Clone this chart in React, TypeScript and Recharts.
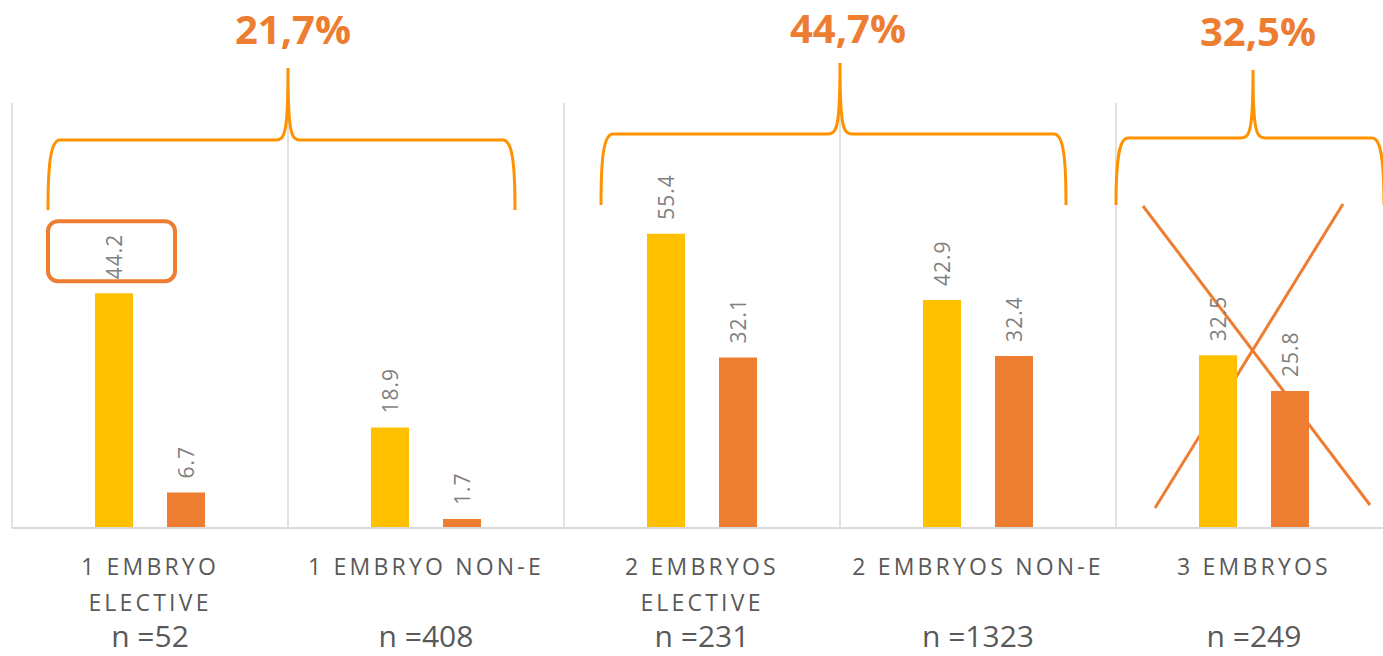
import { BarChart, Bar, XAxis, YAxis, CartesianGrid, LabelList, Customized } from "recharts";

const categories = ["1 EMBRYO ELECTIVE", "1 EMBRYO NON-E", "2 EMBRYOS ELECTIVE", "2 EMBRYOS NON-E", "3 EMBRYOS"];
const tickLines = [["1 EMBRYO", "ELECTIVE"], ["1 EMBRYO NON-E"], ["2 EMBRYOS", "ELECTIVE"], ["2 EMBRYOS NON-E"], ["3 EMBRYOS"]];
const sampleSizes = [52, 408, 231, 1323, 249];
const yellowValues = [44.2, 18.9, 55.4, 42.9, 32.5];
const orangeValues = [6.7, 1.7, 32.1, 32.4, 25.8];
const groupShares = ["21,7%", "44,7%", "32,5%"];

const data = categories.map((name, i) => ({ name, a: yellowValues[i], b: orangeValues[i] }));

const W = 1383;
const H = 656;
// plot runs past the right edge, like the original slide
const M = { top: 103, right: -9, left: 12, bottom: 0 };
const PLOT_W = W - M.left - M.right;
const BAND = PLOT_W / categories.length;
const Y_MAX = 80;

const BRACE = "#FF9200";
const ORANGE = "#ED7D31";

const brace = (x1: number, xm: number, x2: number, hy: number, py: number, ey: number) =>
    `M ${x1} ${ey} C ${x1} ${hy + 28}, ${x1 + 2} ${hy}, ${x1 + 12} ${hy} L ${xm - 12} ${hy} ` +
    `C ${xm - 3} ${hy}, ${xm} ${hy - 8}, ${xm} ${py} C ${xm} ${hy - 8}, ${xm + 3} ${hy}, ${xm + 12} ${hy} ` +
    `L ${x2 - 12} ${hy} C ${x2 - 2} ${hy}, ${x2} ${hy + 28}, ${x2} ${ey}`;

function Tick(props: any) {
    const { x, y, index } = props;
    const lines = tickLines[index] || [];
    return (
        <g>
            {lines.map((l, k) => (
                <text key={k} x={x} y={y + 47 + k * 36} textAnchor="middle" fill="#595959"
                    fontFamily="'Open Sans', sans-serif" fontSize={23} letterSpacing={3.2}>{l}</text>
            ))}
            <text x={x} y={y + 119} textAnchor="middle" fill="#595959"
                fontFamily="'Open Sans', sans-serif" fontSize={30}>{`n =${sampleSizes[index]}`}</text>
        </g>
    );
}

function ValueLabel(props: any) {
    const { x, y, width, value } = props;
    const cx = x + width / 2;
    const ty = y - 14;
    return (
        <text x={cx} y={ty} transform={`rotate(-90 ${cx} ${ty})`} textAnchor="start" dominantBaseline="central"
            fill="#7F7F7F" fontFamily="'Open Sans', sans-serif" fontSize={21} letterSpacing={1}>{value}</text>
    );
}

function Notes() {
    const L = M.left;
    const plotH = 528 - M.top;
    const yOf = (v: number) => M.top + plotH * (1 - v / Y_MAX);
    const top0 = yOf(yellowValues[0]);
    return (
        <g>
            <path d={brace(L + 36, L + BAND, L + 2 * BAND - 49, 140, 68, 210)} fill="none" stroke={BRACE} strokeWidth={3} />
            <path d={brace(L + 2 * BAND + 37, L + 3 * BAND, L + 4 * BAND - 50, 134, 63, 205)} fill="none" stroke={BRACE} strokeWidth={3} />
            <path d={brace(L + 4 * BAND, L + 4.5 * BAND - 1, L + 5 * BAND - 8, 138, 70, 205)} fill="none" stroke={BRACE} strokeWidth={3} />
            <text x={L + BAND + 5} y={44} textAnchor="middle" fill={ORANGE} fontFamily="'Open Sans', sans-serif" fontWeight="bold" fontSize={40}>{groupShares[0]}</text>
            <text x={L + 3 * BAND + 8} y={43} textAnchor="middle" fill={ORANGE} fontFamily="'Open Sans', sans-serif" fontWeight="bold" fontSize={40}>{groupShares[1]}</text>
            <text x={L + 4.5 * BAND + 4} y={46} textAnchor="middle" fill={ORANGE} fontFamily="'Open Sans', sans-serif" fontWeight="bold" fontSize={40}>{groupShares[2]}</text>
            <rect x={L + 36} y={top0 - 72} width={127} height={60} rx={10} fill="none" stroke={ORANGE} strokeWidth={4} />
            <line x1={L + 4 * BAND + 27} y1={206} x2={L + 5 * BAND - 22} y2={505} stroke={ORANGE} strokeWidth={3} />
            <line x1={L + 5 * BAND - 49} y1={204} x2={L + 4 * BAND + 39} y2={508} stroke={ORANGE} strokeWidth={3} />
        </g>
    );
}

export default function App() {
    return (
        <div style={{ position: "fixed", left: 0, top: 0, width: W, height: H, background: "#fff" }}>
            <BarChart width={W} height={H} data={data} margin={M} barSize={38} barGap={34}>
                <CartesianGrid horizontal={false} stroke="#D9D9D9" strokeWidth={1.5}
                    verticalCoordinatesGenerator={({ offset }: any) =>
                        categories.map((_, i) => offset.left + i * (offset.width / categories.length)).concat([offset.left + offset.width])} />
                <XAxis dataKey="name" height={128} interval={0} tickLine={false} tickSize={0} tickMargin={0}
                    axisLine={{ stroke: "#D9D9D9", strokeWidth: 2 }} tick={<Tick />} />
                <YAxis hide domain={[0, Y_MAX]} />
                <Bar dataKey="a" fill="#FFC000" isAnimationActive={false}>
                    <LabelList dataKey="a" content={<ValueLabel />} />
                </Bar>
                <Bar dataKey="b" fill={ORANGE} isAnimationActive={false}>
                    <LabelList dataKey="b" content={<ValueLabel />} />
                </Bar>
                <Customized component={<Notes />} />
            </BarChart>
        </div>
    );
}
